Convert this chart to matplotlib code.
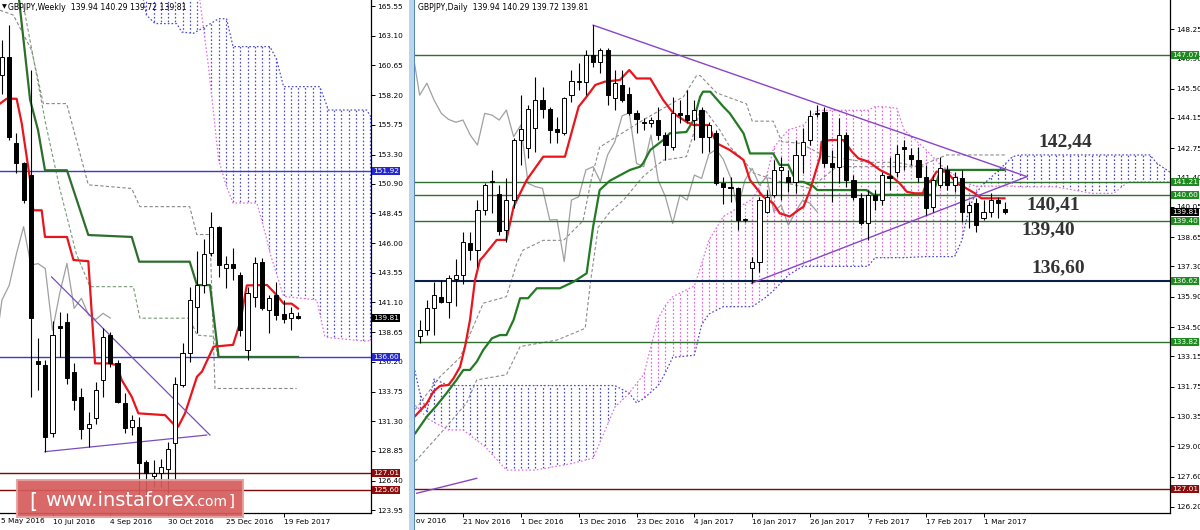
import numpy as np
import matplotlib.pyplot as plt
from matplotlib.patches import Rectangle
from matplotlib.path import Path

# ---------------- weekly data (bar index 0 = 10 Jul 2016) ----------------
w_idx = list(range(-7, 35))
w_open = [159.86, 161.37, 154.22, 152.57, 151.6, 136.29, 135.94, 130.33, 139.15, 139.51,
          135.39, 133.3, 130.71, 131.53, 134.7, 138.41, 136.07, 132.77, 130.85, 130.85,
          127.96, 126.8, 127.0, 127.4, 129.53, 134.28, 136.9, 140.75, 142.5, 145.15,
          147.35, 143.9, 144.3, 143.36, 137.17, 141.57, 144.46, 140.47, 141.71, 140.14,
          139.78, 139.94]
w_high = [162.75, 163.99, 155.05, 152.7, 160.27, 138.2, 136.35, 139.6, 140.3, 140.2,
          136.1, 134.0, 132.08, 134.56, 138.96, 138.7, 136.35, 133.6, 131.8, 131.68,
          128.1, 128.1, 128.2, 129.6, 134.97, 137.72, 142.4, 145.3, 146.3, 148.58,
          147.4, 144.9, 145.56, 143.6, 142.4, 144.87, 144.73, 141.71, 142.81, 141.3,
          140.75, 140.29]
w_low = [158.3, 154.5, 151.75, 149.27, 133.32, 133.9, 128.78, 130.0, 136.6, 134.4,
         132.2, 129.8, 129.2, 131.1, 133.32, 135.8, 132.77, 130.3, 130.2, 124.5,
         124.8, 125.9, 125.9, 125.4, 126.45, 134.15, 136.2, 138.55, 141.9, 144.9,
         143.2, 142.3, 142.95, 138.3, 136.35, 140.75, 140.47, 138.55, 139.65, 139.37,
         138.83, 139.72]
w_close = [161.37, 154.77, 152.57, 149.55, 139.79, 136.02, 130.02, 138.41, 138.96, 134.83,
           133.05, 130.7, 131.07, 133.87, 138.27, 136.07, 132.91, 130.71, 131.4, 127.83,
           127.0, 127.0, 127.55, 128.98, 134.34, 136.9, 141.3, 142.5, 145.1, 147.35,
           144.18, 144.3, 143.9, 138.8, 141.85, 144.32, 140.61, 141.44, 140.06, 139.7,
           140.2, 139.81]

w_tenkan_x = [-7.27, -6.35, -4.97, -4.27, -3.1, -2.66, -1.5, -1.04, 2.0, 2.9, 4.96, 5.89, 7.73,
              8.89, 9.58, 10.97, 11.89, 15.6, 16.7, 17.4, 18.35, 20.0, 20.7, 22.3, 25.0, 26.0,
              26.9, 29.7, 31.05, 32.0, 33.1, 34.0]
w_tenkan = [157.5, 157.9, 157.9, 155.9, 151.2, 148.7, 148.7, 146.5, 146.5, 144.6, 144.5, 136.07,
            136.07, 135.94, 134.7, 133.32, 131.95, 131.8, 131.1, 130.85, 131.95, 134.97, 135.4,
            137.45, 137.6, 139.5, 142.5, 142.54, 141.7, 141.0, 141.0, 140.6]
w_kijun_x = [-4.8, -3.1, -2.0, -1.04, 2.0, 4.96, 10.97, 12.0, 19.0, 20.0, 21.8, 23.0, 34.0]
w_kijun = [167.0, 157.8, 155.3, 152.0, 152.0, 146.66, 146.5, 144.46, 144.46, 142.53, 142.53,
           136.6, 136.6]

w_dash1_x = [-7.27, -5.42, -2.89, -1.27, 1.96, 4.96, 10.96, 12.1, 19.0, 19.97, 21.8, 22.5, 33.8]
w_dash1 = [165.2, 164.8, 161.9, 157.5, 157.5, 150.8, 150.5, 149.0, 149.0, 146.7, 146.7, 134.0, 134.0]
w_dash2_x = [-4.0, -2.6, -1.0, 1.0, 3.3, 5.2, 11.2, 12.1, 19.0, 20.0, 22.3, 22.9]
w_dash2 = [165.5, 161.1, 156.0, 150.5, 145.1, 142.4, 142.4, 139.8, 139.8, 138.4, 138.3, 136.6]

w_cloud_x = [12, 12.6, 13, 14.2, 17.2, 17.9, 19.5, 20.4, 21.6, 23, 24.1, 25, 28.3, 29.7, 30.1,
             31, 32, 36.6, 37, 37.7, 38.2, 43.5, 44.2]
w_span_a = [167.5, 166.05, 164.8, 164.1, 164.1, 163.4, 163.3, 163.6, 164.0, 164.5, 164.5, 162.2,
            162.2, 162.2, 162.2, 161.2, 158.9, 158.9, 158.9, 157.8, 156.97, 156.97, 156.3]
w_span_b = [168.5, 168.5, 168.5, 168.5, 168.5, 168.5, 168.0, 166.05, 160.55, 152.85, 150.65,
            149.3, 149.3, 146.25, 145.2, 143.5, 141.6, 141.3, 140.2, 138.3, 138.2, 137.9, 138.0]

w_ticks = [165.55, 163.10, 160.65, 158.20, 155.75, 153.30, 150.90, 148.45, 146.00, 143.55,
           141.10, 138.65, 136.20, 133.75, 131.30, 128.85, 126.40, 123.95]
w_date_pos = [0, 8, 16, 24, 32]
w_date_lbl = ['10 Jul 2016', '4 Sep 2016', '30 Oct 2016', '25 Dec 2016', '19 Feb 2017']

# ---------------- daily data (bar index 0 = 21 Nov 2016) ----------------
d_idx = list(range(-6, 76))
d_open = [134.09, 134.36, 135.36, 135.9, 135.67, 136.7, 136.9, 138.4, 138.06, 139.9, 141.2,
          140.62, 138.98, 140.36, 143.13, 142.74, 143.7, 144.97, 144.54, 143.62, 143.44, 145.2,
          145.8, 145.82, 147.05, 146.74, 147.28, 145.05, 145.67, 145.24, 144.36, 143.9, 143.9,
          144.05, 143.36, 142.82, 144.39, 144.28, 144.05, 144.51, 143.28, 143.44, 141.16, 140.98,
          140.9, 139.44, 137.21, 137.52, 139.82, 140.59, 141.75, 141.44, 141.21, 142.44, 143.13,
          144.33, 144.44, 142.05, 141.9, 143.36, 141.28, 140.44, 139.28, 140.59, 140.36, 141.47,
          141.67, 142.79, 142.44, 142.21, 141.41, 140.05, 141.05, 141.74, 141.05, 141.36, 139.82,
          140.21, 139.52, 139.82, 140.36, 139.94]
d_high = [134.83, 135.75, 136.59, 136.67, 136.9, 137.62, 138.9, 138.9, 140.36, 141.13, 141.75,
          141.05, 141.36, 143.2, 145.2, 144.74, 146.05, 145.59, 144.64, 144.2, 145.13, 146.36,
          146.67, 147.28, 148.43, 147.36, 147.36, 146.36, 146.36, 145.59, 144.51, 144.13, 144.2,
          144.67, 143.51, 145.13, 144.97, 145.44, 144.97, 144.67, 143.97, 143.59, 141.44, 141.44,
          140.97, 139.55, 137.75, 140.51, 140.82, 142.21, 142.36, 141.75, 143.13, 143.67, 144.51,
          144.74, 144.67, 142.67, 144.13, 143.51, 141.51, 140.67, 140.82, 140.82, 141.67, 142.36,
          142.9, 143.13, 142.74, 142.82, 141.98, 141.51, 142.36, 141.98, 141.67, 141.74, 140.28,
          140.44, 140.36, 140.67, 140.51, 140.29]
d_low = [133.75, 134.13, 134.13, 135.6, 134.9, 135.47, 136.5, 137.6, 137.28, 139.67, 139.75,
         138.75, 138.44, 139.98, 141.97, 142.28, 142.59, 144.13, 142.97, 142.97, 143.36, 144.9,
         145.44, 145.2, 146.51, 146.2, 144.74, 144.5, 144.9, 144.28, 143.44, 143.6, 143.75,
         143.13, 142.21, 142.67, 143.9, 143.9, 143.13, 142.52, 142.59, 141.05, 140.2, 140.28,
         138.98, 139.35, 136.52, 137.06, 139.75, 140.51, 140.36, 140.75, 140.67, 141.59, 142.9,
         144.2, 141.9, 140.28, 141.13, 140.98, 140.36, 139.2, 138.52, 139.9, 140.13, 140.82,
         141.44, 141.75, 141.98, 141.2, 139.67, 139.82, 140.9, 140.82, 140.74, 139.36, 139.05,
         138.9, 139.44, 139.59, 139.52, 139.72]
d_close = [134.36, 135.36, 135.98, 135.67, 136.75, 136.9, 138.44, 138.06, 139.9, 141.05, 141.25,
           138.93, 140.36, 143.13, 143.62, 144.54, 144.97, 144.54, 143.59, 143.48, 145.05, 145.86,
           145.84, 147.05, 146.74, 147.28, 145.2, 145.75, 144.97, 144.36, 144.08, 143.95, 144.05,
           143.36, 142.9, 144.36, 144.28, 144.05, 144.51, 143.28, 143.82, 141.13, 140.98, 140.9,
           139.44, 139.46, 137.52, 140.36, 140.51, 141.75, 141.9, 141.21, 142.44, 143.05, 144.24,
           144.39, 142.05, 141.9, 143.36, 141.28, 140.51, 139.28, 140.59, 140.36, 141.51, 141.36,
           142.47, 142.7, 142.24, 141.41, 139.98, 141.28, 141.82, 141.05, 141.44, 139.82, 140.13,
           139.2, 139.82, 140.36, 140.21, 139.81]

d_tenkan_x = [-6.6, -5.0, -4.1, -3.2, -2.0, -1.3, -0.4, 0.28, 0.97, 1.66, 2.35, 2.8, 4.66, 6.0,
              7.0, 7.9, 8.8, 11.1, 14.1, 16.0, 17.1, 18.3, 19.6, 21.7, 23.0, 24.0, 25.9, 27.7,
              29.1, 30.9, 31.9, 33.9, 35.1, 36.9, 38.8, 39.7, 41.5, 42.9, 43.8, 45.2, 46.4, 47.1,
              48.0, 49.4, 49.6, 50.8, 52.6, 53.8, 54.7, 56.1, 57.7, 59.1, 60.4, 61.4, 62.5, 63.6,
              64.1, 64.8, 65.5, 66.9, 68.3, 69.2, 70.8, 71.7, 74.9]
d_tenkan = [130.4, 130.98, 131.52, 131.78, 131.83, 132.14, 132.67, 133.6, 134.83, 136.67, 137.59,
            137.75, 138.52, 138.52, 140.05, 140.67, 141.28, 142.36, 142.36, 144.67, 145.13, 145.67,
            145.82, 145.9, 146.36, 145.97, 145.97, 144.97, 144.36, 143.97, 143.82, 143.82, 142.98,
            142.67, 142.21, 141.28, 140.52, 140.21, 139.75, 139.6, 139.9, 140.05, 140.82, 142.36,
            143.05, 143.13, 143.13, 142.59, 142.28, 142.13, 141.74, 141.51, 141.13, 140.74, 140.67,
            140.67, 141.13, 141.28, 141.67, 141.67, 141.13, 140.98, 140.67, 140.44, 140.44]
d_kijun_x = [-6.6, -5.0, -3.6, -2.3, -0.9, 0.05, 0.97, 1.9, 2.8, 4.0, 5.1, 6.0, 7.0, 7.9, 9.0,
             10.2, 13.4, 15.3, 17.1, 18.0, 18.9, 20.3, 21.7, 23.1, 24.5, 24.9, 25.9, 27.7, 28.6,
             30.9, 31.9, 32.8, 33.2, 34.2, 36.0, 36.9, 38.8, 39.7, 42.9, 43.8, 45.0, 46.1, 47.1,
             48.5, 49.0, 55.8, 56.8, 65.0, 66.0, 74.9]
d_kijun = [129.6, 130.37, 130.9, 131.44, 132.06, 132.52, 132.52, 132.9, 133.44, 133.98, 134.13,
           134.13, 134.83, 135.83, 135.83, 136.29, 136.29, 136.59, 136.98, 139.13, 140.82, 141.25,
           141.5, 141.75, 141.9, 142.05, 142.67, 143.13, 143.44, 143.5, 144.05, 145.13, 145.36,
           145.36, 144.67, 144.36, 143.44, 142.51, 142.51, 141.98, 141.98, 141.2, 141.2, 140.98,
           140.82, 140.82, 140.6, 140.6, 141.75, 141.75]

d_dash1_x = [-6.6, -3.2, -0.4, 2.8, 6.0, 7.4, 8.3, 11.1, 13.9, 16.6, 17.8, 18.9, 24.9, 30.5,
             32.3, 32.8, 35.1, 39.2, 40.0, 42.9, 44.1, 46.6, 50.0, 56.0, 60.0, 63.0, 66.9, 75.0]
d_dash1 = [130.7, 132.2, 133.1, 135.6, 135.9, 137.4, 138.05, 138.5, 138.5, 139.4, 141.4, 142.8,
           144.05, 145.13, 146.1, 146.1, 145.3, 144.8, 144.0, 144.0, 143.05, 142.98, 142.4, 142.1,
           142.1, 141.9, 142.44, 142.44]
d_dash2_x = [-6.6, -2.7, 0.5, 1.9, 6.0, 7.9, 13.0, 16.9, 17.6, 18.7, 20.3, 22.2, 24.9, 27.7,
             30.9, 31.9, 32.8, 33.5, 35.5, 36.9, 38.8, 40.2, 44.0, 48.0, 51.7, 63.7]
d_dash2 = [128.3, 129.75, 131.0, 132.06, 132.3, 133.6, 133.9, 134.44, 136.5, 139.1, 139.8, 140.36,
           141.44, 142.2, 142.36, 143.44, 144.5, 144.5, 143.6, 142.82, 142.2, 141.6, 141.2, 140.9,
           141.9, 141.9]

d_cloud_x = [-7, -6, -5, -4, -2, 0, 3, 6, 10, 15, 18, 20, 21, 23, 24, 25, 27, 28, 29, 32, 33,
             34, 36, 38, 40, 42, 43, 45, 47, 49, 52, 56, 57, 58, 60, 61, 64, 66, 68, 69, 70, 71,
             72, 74, 76, 77, 82, 87, 90, 92, 95, 96, 98]
d_span_a = [133.0, 131.5, 130.6, 132.1, 131.8, 131.8, 131.8, 131.8, 131.8, 131.8, 131.8, 131.8,
            131.8, 131.45, 131.0, 131.2, 131.8, 132.4, 133.1, 133.2, 134.6, 135.1, 135.44, 135.44,
            135.44, 135.9, 136.2, 136.9, 137.3, 137.3, 137.3, 137.3, 137.7, 137.7, 137.7, 137.7,
            137.75, 137.75, 137.75, 138.5, 140.0, 140.7, 141.1, 141.7, 142.36, 142.44, 142.44,
            142.44, 142.44, 142.44, 142.44, 142.05, 141.6]
d_span_b = [131.0, 130.7, 130.3, 130.1, 129.75, 129.75, 129.0, 127.9, 127.9, 128.2, 128.45, 130.0,
            130.8, 131.45, 131.9, 132.3, 134.9, 135.5, 135.9, 136.4, 137.4, 138.5, 139.6, 140.0,
            140.4, 141.5, 142.8, 143.6, 143.8, 144.5, 144.5, 144.5, 144.67, 144.67, 144.6, 143.6,
            142.7, 142.0, 141.5, 141.3, 141.1, 141.0, 141.0, 141.0, 141.0, 140.97, 140.97, 140.67,
            140.67, 141.2, 141.2, 141.2, 141.2]

d_ticks = [148.25, 146.90, 145.50, 144.15, 142.75, 141.40, 140.05, 138.65, 137.30, 135.90,
           134.50, 133.15, 131.75, 130.35, 129.00, 127.60, 126.20]
d_date_pos = [0, 8, 16, 24, 32, 40, 48, 56, 64, 72]
d_date_lbl = ['21 Nov 2016', '1 Dec 2016', '13 Dec 2016', '23 Dec 2016', '4 Jan 2017',
              '16 Jan 2017', '26 Jan 2017', '7 Feb 2017', '17 Feb 2017', '1 Mar 2017']

# levels: (value, line colour, label colour)
w_levels = [(151.92, '#3a3ac8', '#2626d0'), (136.60, '#3a3ac8', '#2626d0'),
            (127.01, '#7a0a0a', '#8b0d0d'), (125.60, '#7a0a0a', '#8b0d0d')]
d_levels = [(147.07, '#2f6f2f', '#1f8a1f'), (141.21, '#2f6f2f', '#1f8a1f'),
            (140.60, '#2f6f2f', '#1f8a1f'), (139.40, '#2f6f2f', '#1f8a1f'),
            (136.62, '#0c1e4a', '#1f8a1f'), (133.82, '#2f6f2f', '#1f8a1f'),
            (127.01, '#7a0a0a', '#8b0d0d')]
last_price = 139.81

w_trend = [((-0.12, 143.2), (21.8, 130.16)), ((-1.04, 128.79), (21.35, 130.16))]
d_trend = [((18.0, 148.43), (78.0, 141.44)), ((39.9, 136.52), (78.0, 141.44)),
           ((-6.4, 126.83), (1.9, 127.52))]

notes = [('142,44', 83.3, 143.05), ('140,41', 81.6, 140.13), ('139,40', 80.9, 138.98),
         ('136,60', 82.3, 137.22)]

# ---------------- drawing ----------------
W, H = 1200, 530
FS = 5.3
fig = plt.figure(figsize=(12, 5.3), dpi=100)


def px_box(x0, x1, y0=0, y1=513):
    return [x0 / W, 1 - y1 / H, (x1 - x0) / W, (y1 - y0) / H]


axw = fig.add_axes(px_box(0, 371))
axd = fig.add_axes(px_box(415, 1170))
axw.set_xlim(-7.27, 44.1)
axw.set_ylim(123.73, 166.045)
axd.set_xlim(-6.64, 97.79)
axd.set_ylim(125.92, 149.59)


def candles(ax, idx, o, h, l, c, width=0.58):
    for i, oo, hh, ll, cc in zip(idx, o, h, l, c):
        ax.plot([i, i], [ll, hh], color='black', lw=0.8, zorder=6, solid_capstyle='butt')
        lo, hi = min(oo, cc), max(oo, cc)
        fc = 'white' if cc > oo else 'black'
        ax.add_patch(Rectangle((i - width / 2, lo), width, max(hi - lo, 0.03),
                               facecolor=fc, edgecolor='black', lw=0.7, zorder=7))


def cloud(ax, xs, a, b, col_up, col_dn, edge_a, edge_b):
    xs, a, b = np.array(xs, float), np.array(a), np.array(b)
    lo, hi = ax.get_ylim()
    bars = np.arange(np.ceil(xs.min()), np.floor(xs.max()) + 1)
    for where, col in ((a >= b, col_up), (a < b, col_dn)):
        poly = ax.fill_between(xs, a, b, where=where, interpolate=True,
                               facecolor='none', edgecolor='none')
        paths = poly.get_paths()
        if len(paths) == 0:
            continue
        clip = Path.make_compound_path(*paths)
        vl = ax.vlines(bars, lo, hi, colors=col, linestyles=(0, (1.3, 1.7)), lw=0.9, zorder=2)
        vl.set_clip_path(clip, ax.transData)
    ax.plot(xs, a, color=edge_a, ls=(0, (1.3, 1.7)), lw=0.9, zorder=2)
    ax.plot(xs, b, color=edge_b, ls=(0, (1.3, 1.7)), lw=0.9, zorder=2)


def style_axis(ax, ticks, date_pos, date_lbl):
    ax.yaxis.tick_right()
    ax.set_yticks(ticks)
    ax.set_yticklabels([f'{v:.2f}' for v in ticks])
    ax.set_xticks(date_pos)
    ax.set_xticklabels(date_lbl)
    for t in ax.get_xticklabels():
        t.set_ha('left')
    ax.tick_params(axis='both', labelsize=FS, length=3, width=0.7, pad=1.2, colors='black')
    for s in ('top', 'left'):
        ax.spines[s].set_visible(False)
    for s in ('bottom', 'right'):
        ax.spines[s].set_linewidth(0.9)


def level_labels(ax, levels):
    for v, lc, bc in levels:
        ax.axhline(v, color=lc, lw=1.5 if lc == '#0c1e4a' else 1.0, zorder=3)
        ax.annotate(f'{v:.2f}', xy=(1, v), xycoords=('axes fraction', 'data'),
                    xytext=(1.6, 0), textcoords='offset points', ha='left', va='center',
                    fontsize=FS, color='white', annotation_clip=False, zorder=20,
                    bbox=dict(boxstyle='square,pad=0.15', fc=bc, ec='none'))
    ax.annotate(f'{last_price:.2f}', xy=(1, last_price), xycoords=('axes fraction', 'data'),
                xytext=(1.6, 0), textcoords='offset points', ha='left', va='center',
                fontsize=FS, color='white', annotation_clip=False, zorder=21,
                bbox=dict(boxstyle='square,pad=0.15', fc='black', ec='none'))


# weekly panel
style_axis(axw, w_ticks, w_date_pos, w_date_lbl)
cloud(axw, w_cloud_x, w_span_a, w_span_b, '#4a4ad0', '#4a4ad0', '#4a4ad0', '#e070e0')
axw.plot(w_dash1_x, w_dash1, color='#888888', ls=(0, (3, 2)), lw=0.8, zorder=3)
axw.plot(w_dash2_x, w_dash2, color='#7a9a7a', ls=(0, (3, 2)), lw=0.8, zorder=3)
axw.plot(np.array(w_idx) - 26, w_close, color='#a0a0a0', lw=0.9, zorder=3)
axw.plot(w_kijun_x, w_kijun, color='#2d6e2d', lw=1.6, zorder=4)
axw.plot(w_tenkan_x, w_tenkan, color='#e8161c', lw=1.6, zorder=4)
for p0, p1 in w_trend:
    axw.plot([p0[0], p1[0]], [p0[1], p1[1]], color='#7a4cc0', lw=0.9, zorder=4)
level_labels(axw, w_levels)
candles(axw, w_idx, w_open, w_high, w_low, w_close)
axw.text(0.005, 0.992, '\u25bc', transform=axw.transAxes, fontsize=4.5, va='top', ha='left')
axw.text(0.022, 0.995, 'GBPJPY,Weekly  139.94 140.29 139.72 139.81', transform=axw.transAxes,
         fontsize=FS + 0.3, va='top', ha='left', zorder=30)

# daily panel
style_axis(axd, d_ticks, d_date_pos, d_date_lbl)
cloud(axd, d_cloud_x, d_span_a, d_span_b, '#4040c8', '#e060e0', '#4848d0', '#e070e0')
axd.plot(d_dash1_x, d_dash1, color='#8c8c8c', ls=(0, (3, 2)), lw=0.8, zorder=3)
axd.plot(d_dash2_x, d_dash2, color='#8c8c8c', ls=(0, (3, 2)), lw=0.8, zorder=3)
axd.plot(np.array(d_idx) - 26, d_close, color='#a0a0a0', lw=0.9, zorder=3)
level_labels(axd, d_levels)
axd.plot(d_kijun_x, d_kijun, color='#237a23', lw=1.6, zorder=4)
axd.plot(d_tenkan_x, d_tenkan, color='#e8161c', lw=1.6, zorder=4)
for p0, p1 in d_trend:
    axd.plot([p0[0], p1[0]], [p0[1], p1[1]], color='#8a44c8', lw=1.0, zorder=4)
candles(axd, d_idx, d_open, d_high, d_low, d_close)
for txt, x, y in notes:
    axd.text(x, y, txt, fontsize=14, fontweight='bold', family='Liberation Serif',
             color='#333333', ha='center', va='center', zorder=30)
axd.text(0.004, 0.995, 'GBPJPY,Daily  139.94 140.29 139.72 139.81', transform=axd.transAxes,
         fontsize=FS + 0.3, va='top', ha='left', zorder=30)

# partially hidden first date labels
fig.text(1 / W, 1 - 521 / H, '5 May 2016', fontsize=FS, va='center', ha='left')
fig.text(416 / W, 1 - 521 / H, 'ov 2016', fontsize=FS, va='center', ha='left')

# separator between panels
fig.patches.append(Rectangle((409 / W, 0), 5 / W, 1, transform=fig.transFigure,
                             facecolor='#b8d6ee', edgecolor='none', zorder=10))
fig.patches.append(Rectangle((414 / W, 0), 1.2 / W, 1, transform=fig.transFigure,
                             facecolor='#5b86b8', edgecolor='none', zorder=10))

# watermark
fig.patches.append(Rectangle((17 / W, 1 - 517 / H), 226 / W, 37 / H, transform=fig.transFigure,
                             facecolor='#d65c5c', edgecolor='#e8a0a0', lw=1.5, alpha=0.92,
                             zorder=15))
fig.text(29 / W, 1 - 508 / H, '[', fontsize=15, color='white', va='baseline', zorder=16)
fig.text(45 / W, 1 - 506 / H, 'www.instaforex', fontsize=14, color='white', va='baseline',
         zorder=16)
fig.text(194 / W, 1 - 506 / H, '.com', fontsize=10, color='white', va='baseline', zorder=16)
fig.text(229 / W, 1 - 506 / H, ']', fontsize=11, color='white', va='baseline', zorder=16)

fig.savefig('out.png', dpi=100)
